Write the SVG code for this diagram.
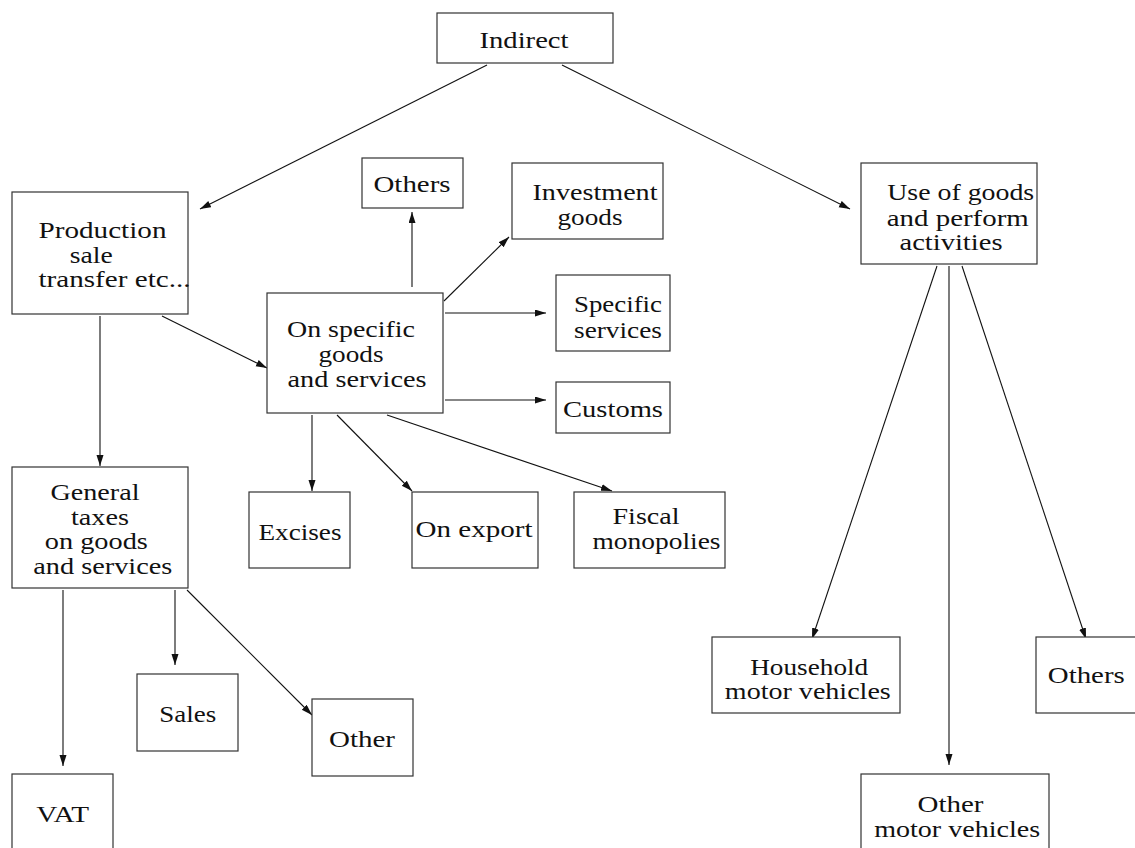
<svg xmlns="http://www.w3.org/2000/svg" width="1135" height="848" viewBox="0 0 1135 848" font-family="Liberation Serif, DejaVu Serif, Times New Roman, serif">
<style>
.n rect{fill:#fff;stroke:#333;stroke-width:1.2}
.n text{font-size:23px;fill:#111;text-anchor:middle}
.c line{stroke:#111;stroke-width:1.1;marker-end:url(#ah)}
</style>
<defs>
<marker id="ah" markerUnits="userSpaceOnUse" markerWidth="12" markerHeight="8" refX="11" refY="3.5" orient="auto"><path d="M0,0 L11,3.5 L0,7 z" fill="#111"/></marker>
</defs>
<g class="c" id="connectors">
<line x1="487" y1="65" x2="200" y2="209"/>
<line x1="562" y1="65" x2="850" y2="209"/>
<line x1="412" y1="287" x2="412" y2="212"/>
<line x1="444" y1="301" x2="509" y2="237"/>
<line x1="445" y1="313" x2="546" y2="313"/>
<line x1="445" y1="400" x2="546" y2="400"/>
<line x1="162" y1="316" x2="267" y2="368"/>
<line x1="100" y1="316" x2="100" y2="466"/>
<line x1="312" y1="415" x2="312" y2="491"/>
<line x1="337" y1="415" x2="412" y2="491"/>
<line x1="387" y1="415" x2="612" y2="491"/>
<line x1="63" y1="590" x2="63" y2="766"/>
<line x1="175" y1="590" x2="175" y2="665"/>
<line x1="187" y1="590" x2="312" y2="715"/>
<line x1="937" y1="266" x2="812" y2="639"/>
<line x1="949" y1="266" x2="949" y2="765"/>
<line x1="962" y1="266" x2="1086" y2="639"/>
</g>
<g class="n" id="indirect"><rect x="437" y="13" width="176" height="50"/><text x="524" y="48" textLength="89" lengthAdjust="spacingAndGlyphs">Indirect</text></g>
<g class="n" id="production"><rect x="12" y="192" width="176" height="122"/>
<text x="102.5" y="238" textLength="128" lengthAdjust="spacingAndGlyphs">Production</text>
<text x="91.3" y="263" textLength="43" lengthAdjust="spacingAndGlyphs">sale</text>
<text x="114.5" y="287" textLength="152" lengthAdjust="spacingAndGlyphs">transfer etc...</text></g>
<g class="n" id="others-top"><rect x="362" y="158" width="101" height="50"/><text x="412" y="192" textLength="77" lengthAdjust="spacingAndGlyphs">Others</text></g>
<g class="n" id="investment"><rect x="512" y="163" width="151" height="76"/>
<text x="595" y="200" textLength="125" lengthAdjust="spacingAndGlyphs">Investment</text>
<text x="590" y="225" textLength="65" lengthAdjust="spacingAndGlyphs">goods</text></g>
<g class="n" id="specific-services"><rect x="556" y="275" width="114" height="76"/>
<text x="618" y="312" textLength="88" lengthAdjust="spacingAndGlyphs">Specific</text>
<text x="618" y="338" textLength="88" lengthAdjust="spacingAndGlyphs">services</text></g>
<g class="n" id="customs"><rect x="556" y="382" width="114" height="51"/><text x="613" y="417" textLength="100" lengthAdjust="spacingAndGlyphs">Customs</text></g>
<g class="n" id="on-specific"><rect x="267" y="293" width="176" height="120"/>
<text x="351" y="337" textLength="128" lengthAdjust="spacingAndGlyphs">On specific</text>
<text x="351" y="362" textLength="65" lengthAdjust="spacingAndGlyphs">goods</text>
<text x="357" y="387" textLength="139" lengthAdjust="spacingAndGlyphs">and services</text></g>
<g class="n" id="general"><rect x="12" y="467" width="176" height="121"/>
<text x="95" y="500" textLength="89" lengthAdjust="spacingAndGlyphs">General</text>
<text x="100" y="525" textLength="58" lengthAdjust="spacingAndGlyphs">taxes</text>
<text x="96.3" y="549" textLength="103" lengthAdjust="spacingAndGlyphs">on goods</text>
<text x="102.8" y="574" textLength="139" lengthAdjust="spacingAndGlyphs">and services</text></g>
<g class="n" id="excises"><rect x="249" y="492" width="101" height="76"/><text x="300" y="540" textLength="83" lengthAdjust="spacingAndGlyphs">Excises</text></g>
<g class="n" id="on-export"><rect x="412" y="492" width="126" height="76"/><text x="474" y="537" textLength="117" lengthAdjust="spacingAndGlyphs">On export</text></g>
<g class="n" id="fiscal"><rect x="574" y="492" width="151" height="76"/>
<text x="646" y="524" textLength="67" lengthAdjust="spacingAndGlyphs">Fiscal</text>
<text x="656.5" y="549" textLength="128" lengthAdjust="spacingAndGlyphs">monopolies</text></g>
<g class="n" id="vat"><rect x="12" y="774" width="101" height="90"/><text x="62.7" y="822" textLength="53" lengthAdjust="spacingAndGlyphs">VAT</text></g>
<g class="n" id="sales"><rect x="137" y="674" width="101" height="77"/><text x="187.7" y="722" textLength="57" lengthAdjust="spacingAndGlyphs">Sales</text></g>
<g class="n" id="other"><rect x="312" y="699" width="101" height="77"/><text x="362" y="747" textLength="66" lengthAdjust="spacingAndGlyphs">Other</text></g>
<g class="n" id="use-of-goods"><rect x="861" y="163" width="176" height="101"/>
<text x="960.7" y="200" textLength="147" lengthAdjust="spacingAndGlyphs">Use of goods</text>
<text x="957.8" y="226" textLength="142" lengthAdjust="spacingAndGlyphs">and perform</text>
<text x="951" y="250" textLength="103" lengthAdjust="spacingAndGlyphs">activities</text></g>
<g class="n" id="household"><rect x="712" y="637" width="188" height="76"/>
<text x="809.2" y="675" textLength="118" lengthAdjust="spacingAndGlyphs">Household</text>
<text x="807.8" y="699" textLength="166" lengthAdjust="spacingAndGlyphs">motor vehicles</text></g>
<g class="n" id="others-right"><rect x="1036" y="637" width="120" height="76"/><text x="1086.3" y="683" textLength="77" lengthAdjust="spacingAndGlyphs">Others</text></g>
<g class="n" id="other-motor"><rect x="861" y="774" width="188" height="90"/>
<text x="950.5" y="812" textLength="66" lengthAdjust="spacingAndGlyphs">Other</text>
<text x="957.2" y="837" textLength="166" lengthAdjust="spacingAndGlyphs">motor vehicles</text></g>
</svg>
